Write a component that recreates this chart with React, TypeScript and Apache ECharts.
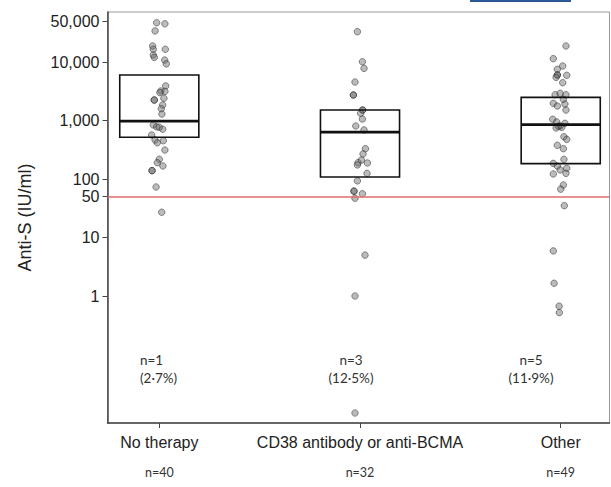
import React, { useEffect, useRef } from "react";
import * as echarts from "echarts";

const categories = ["No therapy", "CD38 antibody or anti-BCMA", "Other"];
const groupCounts = [40, 32, 49];
const belowCounts = ["n=1", "n=3", "n=5"];
const belowPcts = ["(2\u00B77%)", "(12\u00B75%)", "(11\u00B79%)"];
const yTickValues = [1, 10, 50, 100, 1000, 10000, 50000];
const thresholdValue = 50;
// [Q1, median, Q3] in IU/ml
const boxStats = [
  [516, 980, 6000],
  [108, 635, 1510],
  [183, 848, 2490],
];
// [jitter, value IU/ml]
const noTherapyPoints = [
  [-0.013, 47000], [0.028, 45000], [-0.021, 34000], [-0.033, 18800], [-0.03, 16500],
  [0.03, 16500], [-0.03, 13200], [-0.025, 12000], [0.027, 10800], [0.035, 9300],
  [0.032, 3900], [0.008, 3200], [0.028, 3150], [0.003, 3000], [-0.025, 2240],
  [-0.025, 2240], [0.023, 2400], [0.017, 1840], [0.01, 1590], [0.013, 1290],
  [-0.03, 840], [-0.013, 780], [0.0, 765], [0.017, 710], [-0.038, 565],
  [-0.021, 465], [-0.01, 417], [0.02, 452], [0.028, 313], [0.0, 217],
  [-0.01, 190], [0.018, 167], [-0.036, 139], [-0.036, 139], [-0.016, 73], [0.012, 27],
];
const cd38Points = [
  [-0.013, 33000], [0.012, 10100], [0.02, 7800], [-0.025, 4550], [-0.033, 2730],
  [-0.033, 2730], [0.013, 1510], [0.013, 1510], [0.003, 1330], [0.012, 1060],
  [-0.021, 806], [0.02, 690], [0.027, 330], [0.015, 268], [0.007, 211],
  [-0.01, 190], [0.037, 188], [-0.013, 174], [0.035, 125], [-0.013, 93],
  [-0.03, 62], [-0.03, 62], [0.012, 56], [-0.025, 47], [0.025, 5.0],
  [-0.025, 1.0], [-0.025, 0.01],
];
const otherPoints = [
  [0.026, 18800], [-0.037, 11400], [0.01, 8550], [-0.017, 7500], [0.03, 5930],
  [-0.017, 6000], [-0.017, 6000], [-0.023, 5470], [0.01, 4430], [-0.028, 2760],
  [-0.003, 2920], [0.026, 2760], [0.013, 2300], [-0.037, 1970], [-0.017, 1770],
  [0.021, 1910], [0.026, 1510], [-0.04, 1050], [-0.02, 942], [-0.003, 806],
  [0.021, 896], [-0.023, 745], [0.005, 765], [-0.012, 800], [0.016, 528],
  [0.03, 477], [-0.017, 377], [0.013, 330], [0.016, 217], [-0.037, 185],
  [-0.017, 167], [-0.003, 143], [0.03, 152], [-0.037, 122], [0.026, 125],
  [0.013, 79], [0.0, 67], [0.018, 35], [-0.037, 5.9], [-0.033, 1.65],
  [-0.008, 0.67], [-0.007, 0.52],
];
const groupPoints = [noTherapyPoints, cd38Points, otherPoints];

const BOX_HALF = 0.197;

export default function App() {
  const ref = useRef<HTMLDivElement>(null);
  useEffect(() => {
    if (!ref.current) return;
    const chart = echarts.init(ref.current, undefined, { renderer: "svg" });
    const lg = (v: number) => Math.log10(v);
    const scatterData: number[][] = [];
    groupPoints.forEach((pts, gi) => {
      pts.forEach(([j, v]) => scatterData.push([gi + 1 + j, lg(v)]));
    });
    const boxData = boxStats.map((b, gi) => [gi + 1, lg(b[0]), lg(b[1]), lg(b[2])]);
    const fmtTick = (v: number) => Math.round(Math.pow(10, v)).toLocaleString("en-US");
    const textFont = "Lato, 'Open Sans', sans-serif";
    const sans = "'Liberation Sans', Arial, sans-serif";
    const annX = [140, 351, 531];
    const annAlign = ["left", "center", "center"];
    const option: any = {
      animation: false,
      grid: {
        left: 107.5,
        right: 1.5,
        top: 12,
        bottom: 64,
        show: true,
        borderColor: "#9a9a9a",
        borderWidth: 1,
      },
      xAxis: {
        type: "value",
        min: 0.742,
        max: 3.243,
        splitLine: { show: false },
        axisLine: { show: true, onZero: false, lineStyle: { color: "#444", width: 1.5 } },
        axisTick: {
          show: true,
          length: 5,
          lineStyle: { color: "#444", width: 1 },
          customValues: [1, 2, 3],
        },
        axisLabel: {
          customValues: [1, 2, 3],
          margin: 8,
          formatter: (v: number) => {
            const i = Math.round(v) - 1;
            return `{a|${categories[i]}}\n{b|n=${groupCounts[i]}}`;
          },
          rich: {
            a: { fontFamily: sans, fontSize: 16, color: "#222", lineHeight: 22 },
            b: { fontFamily: textFont, fontSize: 12.5, color: "#333", lineHeight: 38 },
          },
        },
      },
      yAxis: {
        type: "value",
        min: -2.171,
        max: 4.855,
        name: "Anti-S (IU/ml)",
        nameLocation: "middle",
        nameGap: 74,
        nameTextStyle: { fontFamily: sans, fontSize: 18, color: "#222" },
        splitLine: { show: false },
        axisLine: { show: true, onZero: false, lineStyle: { color: "#444", width: 1.5 } },
        axisTick: {
          show: true,
          length: 5,
          lineStyle: { color: "#444", width: 1 },
          customValues: yTickValues.map(lg),
        },
        axisLabel: {
          customValues: yTickValues.map(lg),
          margin: 8,
          fontFamily: sans,
          fontSize: 16,
          color: "#222",
          formatter: fmtTick,
        },
      },
      series: [
        {
          type: "scatter",
          data: scatterData,
          symbol: "circle",
          symbolSize: 6.5,
          itemStyle: {
            color: "rgba(100,100,100,0.55)",
            borderColor: "rgba(30,30,30,0.6)",
            borderWidth: 1,
          },
          z: 2,
        },
        {
          type: "custom",
          data: boxData,
          encode: { x: 0, y: [1, 2, 3] },
          z: 3,
          renderItem: (_params: any, api: any) => {
            const x = api.value(0);
            const q1 = api.value(1);
            const med = api.value(2);
            const q3 = api.value(3);
            const tl = api.coord([x - BOX_HALF, q3]);
            const br = api.coord([x + BOX_HALF, q1]);
            const ml = api.coord([x - BOX_HALF, med]);
            const mr = api.coord([x + BOX_HALF, med]);
            return {
              type: "group",
              children: [
                {
                  type: "rect",
                  shape: { x: tl[0], y: tl[1], width: br[0] - tl[0], height: br[1] - tl[1] },
                  style: { fill: "none", stroke: "#111", lineWidth: 1.6 },
                },
                {
                  type: "line",
                  shape: { x1: ml[0], y1: ml[1], x2: mr[0], y2: mr[1] },
                  style: { stroke: "#111", lineWidth: 2.8 },
                },
              ],
            };
          },
          markLine: {
            silent: true,
            symbol: "none",
            label: { show: false },
            lineStyle: { color: "#e06a6a", width: 1.6, type: "solid" },
            data: [{ yAxis: lg(thresholdValue) }],
          },
        },
      ],
      graphic: [
        {
          type: "line",
          shape: { x1: 470, y1: 1, x2: 571, y2: 1 },
          style: { stroke: "#2b5797", lineWidth: 2 },
        },
        ...categories.flatMap((_c, i) => [
          {
            type: "text",
            x: annX[i],
            y: 360,
            style: {
              text: belowCounts[i],
              fontFamily: textFont,
              fontSize: 13.5,
              fill: "#333",
              textAlign: annAlign[i],
              textVerticalAlign: "middle",
            },
          },
          {
            type: "text",
            x: annX[i],
            y: 378,
            style: {
              text: belowPcts[i],
              fontFamily: textFont,
              fontSize: 13.5,
              fill: "#333",
              textAlign: annAlign[i],
              textVerticalAlign: "middle",
            },
          },
        ]),
      ],
    };
    chart.setOption(option);
    return () => chart.dispose();
  }, []);
  return (
    <div
      ref={ref}
      style={{ position: "fixed", left: 0, top: 0, width: 611, height: 487, background: "#fff" }}
    />
  );
}
